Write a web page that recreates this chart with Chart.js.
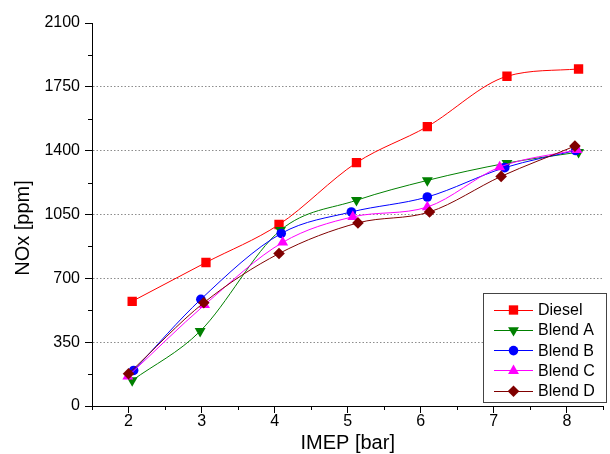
<!DOCTYPE html>
<html>
<head>
<meta charset="utf-8">
<script src="https://cdn.jsdelivr.net/npm/chart.js@4.4.0/dist/chart.umd.min.js"></script>
<style>
  html, body { margin: 0; padding: 0; background: #fff; }
  #wrap { width: 610px; height: 454px; }
</style>
</head>
<body>
<div id="wrap"><canvas id="chart" width="610" height="454"></canvas></div>
<script>
const seriesNames = ['Diesel', 'Blend A', 'Blend B', 'Blend C', 'Blend D'];

// IMEP [bar] of each measured point (points sit slightly off the integer loads)
const imepDiesel = [2.05, 3.06, 4.06, 5.12, 6.09, 7.18, 8.16];
const imepBlendA = [2.05, 2.98, 4.08, 5.12, 6.09, 7.18, 8.16];
const imepBlendB = [2.07, 2.99, 4.09, 5.05, 6.09, 7.15, 8.12];
const imepBlendC = [1.99, 3.04, 4.11, 5.07, 6.09, 7.08, 8.14];
const imepBlendD = [2.00, 3.03, 4.06, 5.14, 6.12, 7.10, 8.11];

// NOx [ppm]
const noxDiesel = [574, 787, 995, 1334, 1532, 1808, 1848];
const noxBlendA = [140, 410, 964, 1128, 1237, 1332, 1392];
const noxBlendB = [195, 585, 946, 1064, 1146, 1307, 1401];
const noxBlendC = [162, 554, 897, 1037, 1091, 1310, 1405];
const noxBlendD = [177, 566, 836, 1004, 1064, 1259, 1425];

const xTickLabels = [2, 3, 4, 5, 6, 7, 8];
const yTickLabels = [0, 350, 700, 1050, 1400, 1750, 2100];

const colors = ['#ff0000', '#008000', '#0000ff', '#ff00ff', '#800000'];
const markers = [
  { style: 'rect', radius: 6.6, rotation: 0 },
  { style: 'triangle', radius: 6.3, rotation: 180 },
  { style: 'circle', radius: 4.8, rotation: 0 },
  { style: 'triangle', radius: 6.3, rotation: 0 },
  { style: 'rectRot', radius: 5.8, rotation: 0 }
];

const imeps = [imepDiesel, imepBlendA, imepBlendB, imepBlendC, imepBlendD];
const noxes = [noxDiesel, noxBlendA, noxBlendB, noxBlendC, noxBlendD];

const datasets = seriesNames.map((name, i) => ({
  label: name,
  data: imeps[i].map((x, j) => ({ x: x, y: noxes[i][j] })),
  borderColor: colors[i],
  backgroundColor: colors[i],
  borderWidth: 1,
  pointStyle: markers[i].style,
  pointRadius: markers[i].radius,
  pointRotation: markers[i].rotation,
  pointBorderWidth: 0,
  pointHoverRadius: markers[i].radius,
  cubicInterpolationMode: 'monotone',
  showLine: true,
  order: seriesNames.length - i
}));

// minor ticks, y axis title and the line+marker legend
const extras = {
  id: 'extras',
  afterDraw(chart) {
    const ctx = chart.ctx;
    const xs = chart.scales.x;
    const ys = chart.scales.y;
    const area = chart.chartArea;
    ctx.save();
    ctx.strokeStyle = '#000';
    ctx.lineWidth = 1;
    ctx.beginPath();
    for (let v = 175; v < 2100; v += 350) {
      const py = Math.round(ys.getPixelForValue(v)) + 0.5;
      ctx.moveTo(area.left - 4, py);
      ctx.lineTo(area.left, py);
    }
    for (let v = 1.5; v <= xs.max; v += 1) {
      const px = Math.round(xs.getPixelForValue(v)) + 0.5;
      ctx.moveTo(px, area.bottom);
      ctx.lineTo(px, area.bottom + 4);
    }
    ctx.stroke();

    // y title
    ctx.fillStyle = '#000';
    ctx.font = '20px "Liberation Sans", Arial, sans-serif';
    ctx.textAlign = 'center';
    ctx.textBaseline = 'middle';
    ctx.translate(23, 228);
    ctx.rotate(-Math.PI / 2);
    ctx.fillText('NOx [ppm]', 0, 0);
    ctx.restore();

    // legend
    ctx.save();
    ctx.fillStyle = '#fff';
    ctx.fillRect(483.5, 293.5, 123, 109);
    ctx.strokeStyle = '#444';
    ctx.lineWidth = 1;
    ctx.strokeRect(483.5, 293.5, 123, 109);
    ctx.font = '16px "Liberation Sans", Arial, sans-serif';
    ctx.textAlign = 'left';
    ctx.textBaseline = 'middle';
    chart.data.datasets.forEach((ds, i) => {
      const y = 309.5 + i * 20.3;
      ctx.strokeStyle = ds.borderColor;
      ctx.beginPath();
      ctx.moveTo(494, Math.round(y) + 0.5);
      ctx.lineTo(533, Math.round(y) + 0.5);
      ctx.stroke();
      ctx.fillStyle = ds.backgroundColor;
      Chart.helpers.drawPoint(ctx, {
        pointStyle: ds.pointStyle,
        radius: ds.pointRadius,
        rotation: ds.pointRotation,
        borderWidth: 0
      }, 513.5, y + 0.5);
      ctx.fillStyle = '#000';
      ctx.fillText(ds.label, 538, y + 1);
    });
    ctx.restore();
  }
};

const ctx = document.getElementById('chart').getContext('2d');
const chart = new Chart(ctx, {
  type: 'scatter',
  data: { datasets: datasets },
  options: {
    responsive: false,
    animation: false,
    layout: { padding: { top: 23, right: 0, bottom: 0, left: 0 } },
    plugins: {
      legend: { display: false },
      tooltip: { enabled: false }
    },
    scales: {
      x: {
        type: 'linear',
        min: 1.5,
        max: 8.5,
        afterBuildTicks: (scale) => { scale.ticks = xTickLabels.map(v => ({ value: v })); },
        afterFit: (scale) => { scale.height = 48; },
        grid: { drawOnChartArea: false, tickLength: 7, tickColor: '#000' },
        border: { color: '#000', width: 1 },
        ticks: {
          color: '#000',
          padding: -1,
          maxRotation: 0,
          callback: (value) => String(value),
          font: { family: '"Liberation Sans", Arial, sans-serif', size: 16 }
        },
        title: {
          display: true,
          text: 'IMEP [bar]',
          color: '#000',
          padding: 0,
          font: { family: '"Liberation Sans", Arial, sans-serif', size: 20, lineHeight: 1.1 }
        }
      },
      y: {
        min: 0,
        max: 2100,
        afterBuildTicks: (scale) => { scale.ticks = yTickLabels.map(v => ({ value: v })); },
        afterFit: (scale) => { scale.width = 92; },
        grid: {
          color: (c) => (c.tick && (c.tick.value === 0 || c.tick.value === 2100)) ? 'rgba(0,0,0,0)' : '#8c8c8c',
          tickColor: '#000',
          tickLength: 7
        },
        border: { color: '#000', width: 1, dash: [1.5, 2] },
        ticks: {
          color: '#000',
          padding: 5,
          callback: (value) => String(value),
          font: { family: '"Liberation Sans", Arial, sans-serif', size: 16 }
        }
      }
    }
  },
  plugins: [extras]
});
</script>
</body>
</html>
